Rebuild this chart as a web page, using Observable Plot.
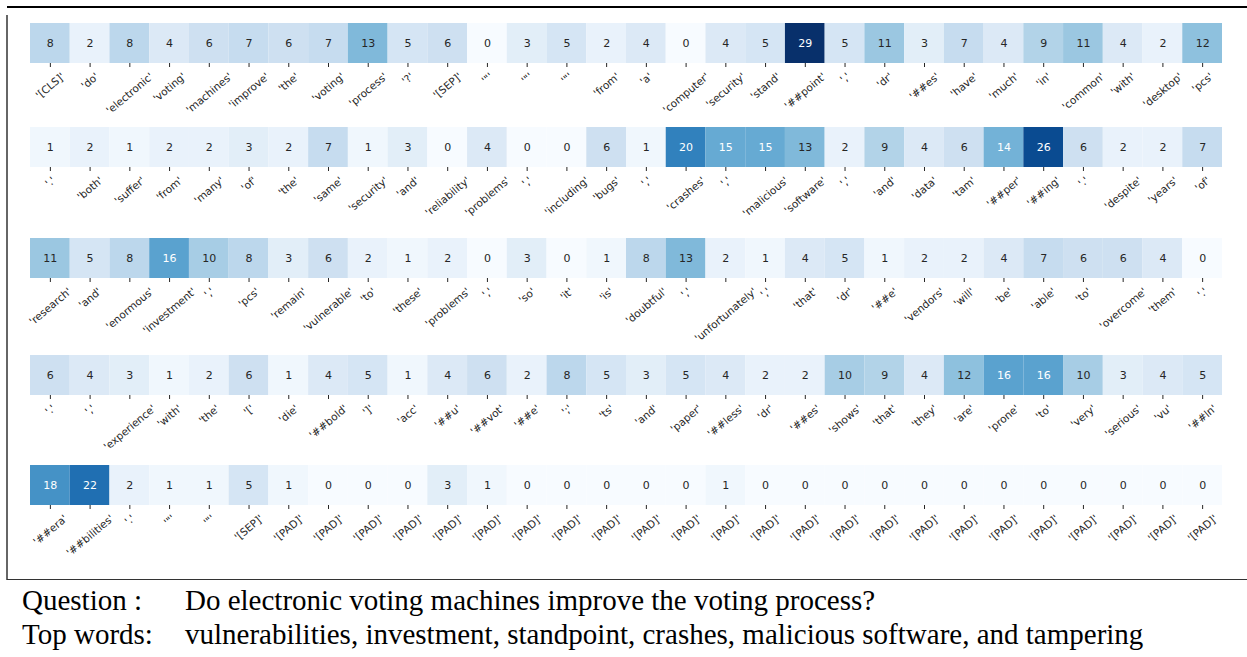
<!DOCTYPE html>
<html>
<head>
<meta charset="utf-8">
<script src="https://cdn.jsdelivr.net/npm/d3@7"></script>
<script src="https://cdn.jsdelivr.net/npm/@observablehq/plot@0.6"></script>
<style>
  html, body { margin: 0; padding: 0; background: #fff; }
  #wrap { position: relative; width: 1247px; height: 657px; overflow: hidden; }
  #topline { position: absolute; left: 7px; top: 6px; width: 1240px; height: 2px; background: #000; }
  #leftline { position: absolute; left: 6px; top: 15px; width: 2px; height: 565px; background: #666; }
  #botline { position: absolute; left: 7px; top: 579px; width: 1240px; height: 1px; background: #333; }
  #rows svg { display: block; overflow: visible; }
  #table { position: absolute; left: 0; top: 583px; font-family: "Liberation Serif", "Times New Roman", serif; font-size: 29px; color: #000; }
  #table .r { display: flex; height: 34px; line-height: 34px; white-space: nowrap; }
  #table .k { width: 163px; padding-left: 22px; }
</style>
</head>
<body>
<div id="wrap">
  <div id="rows"></div>
  <div id="topline"></div>
  <div id="leftline"></div>
  <div id="botline"></div>
  <div id="table"></div>
</div>
<script>
const labels1 = ["'[CLS]'","'do'","'electronic'","'voting'","'machines'","'improve'","'the'","'voting'","'process'","'?'","'[SEP]'","'\"'","'\"'","'\"'","'from'","'a'","'computer'","'security'","'stand'","'##point'","','","'dr'","'##es'","'have'","'much'","'in'","'common'","'with'","'desktop'","'pcs'"];
const values1 = [8,2,8,4,6,7,6,7,13,5,6,0,3,5,2,4,0,4,5,29,5,11,3,7,4,9,11,4,2,12];

const labels2 = ["'.'","'both'","'suffer'","'from'","'many'","'of'","'the'","'same'","'security'","'and'","'reliability'","'problems'","','","'including'","'bugs'","','","'crashes'","','","'malicious'","'software'","','","'and'","'data'","'tam'","'##per'","'##ing'","'.'","'despite'","'years'","'of'"];
const values2 = [1,2,1,2,2,3,2,7,1,3,0,4,0,0,6,1,20,15,15,13,2,9,4,6,14,26,6,2,2,7];

const labels3 = ["'research'","'and'","'enormous'","'investment'","','","'pcs'","'remain'","'vulnerable'","'to'","'these'","'problems'","','","'so'","'it'","'is'","'doubtful'","','","'unfortunately'","','","'that'","'dr'","'##e'","'vendors'","'will'","'be'","'able'","'to'","'overcome'","'them'","'.'"];
const values3 = [11,5,8,16,10,8,3,6,2,1,2,0,3,0,1,8,13,2,1,4,5,1,2,2,4,7,6,6,4,0];

const labels4 = ["'.'","','","'experience'","'with'","'the'","'['","'die'","'##bold'","']'","'acc'","'##u'","'##vot'","'##e'","';'","'ts'","'and'","'paper'","'##less'","'dr'","'##es'","'shows'","'that'","'they'","'are'","'prone'","'to'","'very'","'serious'","'vu'","'##ln'"];
const values4 = [6,4,3,1,2,6,1,4,5,1,4,6,2,8,5,3,5,4,2,2,10,9,4,12,16,16,10,3,4,5];

const labels5 = ["'##era'","'##bilities'","'.'","'\"'","'\"'","'[SEP]'","'[PAD]'","'[PAD]'","'[PAD]'","'[PAD]'","'[PAD]'","'[PAD]'","'[PAD]'","'[PAD]'","'[PAD]'","'[PAD]'","'[PAD]'","'[PAD]'","'[PAD]'","'[PAD]'","'[PAD]'","'[PAD]'","'[PAD]'","'[PAD]'","'[PAD]'","'[PAD]'","'[PAD]'","'[PAD]'","'[PAD]'","'[PAD]'"];
const values5 = [18,22,2,1,1,5,1,0,0,0,3,1,0,0,0,0,0,1,0,0,0,0,0,0,0,0,0,0,0,0];

const questionText = "Do electronic voting machines improve the voting process?";
const topWordsText = "vulnerabilities, investment, standpoint, crashes, malicious software, and tampering";

const cellH = 40;
const rowsSpec = [
  {labels: labels1, values: values1, height: 127, marginTop: 23},
  {labels: labels2, values: values2, height: 111, marginTop: 0},
  {labels: labels3, values: values3, height: 117, marginTop: 0},
  {labels: labels4, values: values4, height: 110, marginTop: 0},
  {labels: labels5, values: values5, height: 115, marginTop: 0}
];

const vmax = 29;
function relLum(c) {
  const rgb = d3.rgb(c);
  const f = v => { v /= 255; return v <= 0.03928 ? v / 12.92 : Math.pow((v + 0.055) / 1.055, 2.4); };
  return 0.2126 * f(rgb.r) + 0.7152 * f(rgb.g) + 0.0722 * f(rgb.b);
}
const isDark = v => relLum(d3.interpolateBlues(v / vmax)) <= 0.408;

// text measurement for matplotlib-like centred rotated tick labels
const labelFont = 10.5;
const ctx = document.createElement("canvas").getContext("2d");
ctx.font = `${labelFont}px "DejaVu Sans"`;
const ang = 40 * Math.PI / 180;
const rotH = s => ctx.measureText(s).width * Math.sin(ang) + labelFont * 1.15 * Math.cos(ang);

const rowsEl = document.getElementById("rows");
for (const spec of rowsSpec) {
  const cellBottom = spec.marginTop + cellH;
  const data = spec.values.map((v, i) => ({i, v, label: spec.labels[i], ly: cellBottom + 4 + 3 + rotH(spec.labels[i]) / 2}));
  const plot = Plot.plot({
    width: 1247,
    height: spec.height,
    marginLeft: 30,
    marginRight: 25,
    marginTop: spec.marginTop,
    marginBottom: spec.height - cellBottom,
    style: {fontFamily: "DejaVu Sans", fontSize: `${labelFont}px`, color: "#262626", background: "transparent", overflow: "visible"},
    x: {type: "band", domain: d3.range(30), padding: 0, round: false, label: null},
    y: {type: "identity", axis: null},
    color: {type: "linear", scheme: "blues", domain: [0, vmax]},
    marks: [
      Plot.cell(data, {x: "i", fill: "v"}),
      Plot.text(data.filter(d => !isDark(d.v)), {x: "i", text: d => String(d.v), frameAnchor: "middle", fill: "#262626", fontSize: 11}),
      Plot.text(data.filter(d => isDark(d.v)), {x: "i", text: d => String(d.v), frameAnchor: "middle", fill: "#ffffff", fontSize: 11}),
      Plot.axisX({tickSize: 4, tickFormat: () => "", label: null, stroke: "#262626"}),
      Plot.text(data, {x: "i", y: "ly", text: "label", rotate: -40, textAnchor: "middle", lineAnchor: "middle", fill: "#262626", fontSize: labelFont})
    ]
  });
  rowsEl.appendChild(plot);
}

const tableEl = document.getElementById("table");
[["Question :", questionText], ["Top words:", topWordsText]].forEach(([k, v]) => {
  const r = document.createElement("div");
  r.className = "r";
  const a = document.createElement("div"); a.className = "k"; a.textContent = k;
  const b = document.createElement("div"); b.textContent = v;
  r.appendChild(a); r.appendChild(b);
  tableEl.appendChild(r);
});
</script>
</body>
</html>
